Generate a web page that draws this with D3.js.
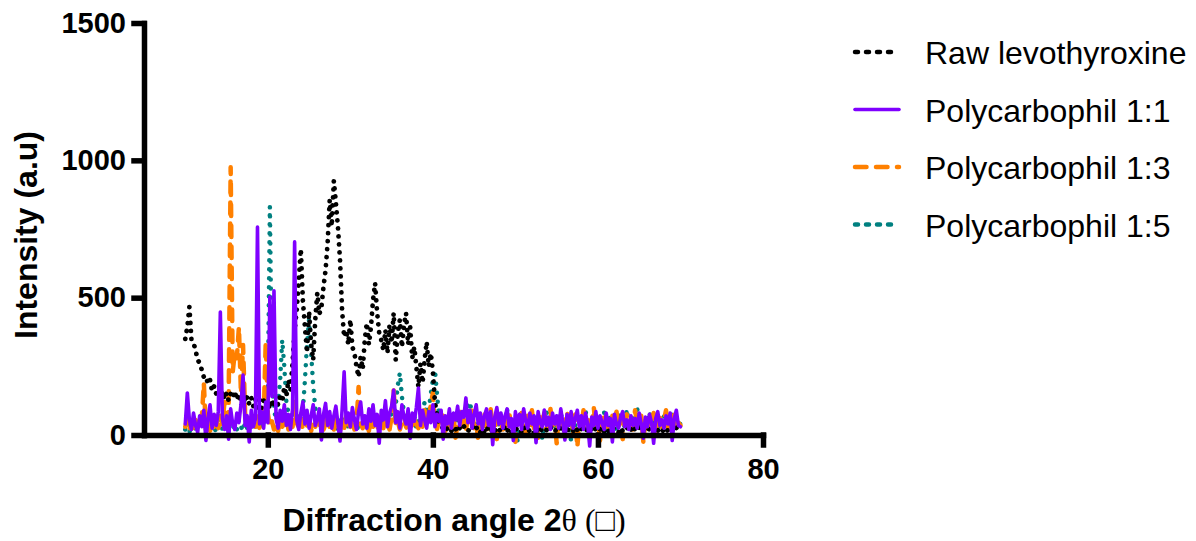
<!DOCTYPE html>
<html>
<head>
<meta charset="utf-8">
<script src="https://cdn.jsdelivr.net/npm/d3@7"></script>
<style>
  body { margin: 0; background: #fff; }
  svg text { font-family: "Liberation Sans", Arial, sans-serif; }
</style>
</head>
<body>
<div id="app"></div>
<script>
// 2theta grid: 10 .. 70 deg, one reading every 0.25 deg (one row below = 2 deg)
const angleStart = 10
const angleStep = 0.25

const rawLevothyroxine = [
  350, 393, 466, 346, 335, 309, 273, 262,
  237, 211, 215, 185, 200, 160, 178, 150,
  165, 140, 160, 130, 153, 125, 150, 135,
  160, 128, 150, 120, 145, 118, 140, 112,
  135, 105, 130, 100, 128, 98, 125, 105,
  122, 95, 130, 100, 125, 110, 150, 120,
  175, 140, 200, 165, 262, 380, 455, 560,
  677, 490, 393, 300, 450, 330, 273, 420,
  517, 440, 466, 540, 600, 700, 855, 760,
  925, 845, 757, 637, 455, 357, 382, 330,
  420, 320, 298, 248, 211, 284, 240, 346,
  408, 330, 393, 491, 553, 444, 371, 346,
  309, 382, 298, 400, 335, 444, 273, 371,
  420, 320, 400, 444, 330, 393, 280, 320,
  248, 175, 260, 190, 273, 339, 250, 298,
  230, 120, 70, 40, 30, 25, 35, 20,
  28, 15, 30, 22, 10, 26, 18, 32,
  20, 12, 28, 35, 15, 24, 30, 10,
  25, 12, 30, 18, 8, 28, 15, 22,
  10, 26, 19, 32, 14, 24, 8, 20,
  28, 16, 22, 10, 30, 18, 25, 12,
  20, 8, 26, 15, 28, 12, 22, 18,
  14, 30, 20, 10, 24, 16, 28, 12,
  22, 10, 26, 18, 14, 30, 20, 8,
  24, 16, 12, 28, 18, 22, 10, 26,
  14, 20, 30, 12, 24, 16, 8, 22,
  28, 18, 10, 26, 14, 20, 30, 12,
  22, 8, 24, 16, 28, 12, 20, 18,
  10, 26, 14, 22, 30, 16, 24, 12,
  20, 28, 12, 18, 24, 10, 26, 16,
  18
]

const polycarbophil11 = [
  40, 153, 55, 20, 80, 35, 10, 70,
  30, 90, -20, 60, 110, 25, 75, 35,
  85, 448, 60, 20, 70, -15, 95, 40,
  20, 80, 45, 110, 218, 35, 70, -25,
  90, 30, 60, 757, 40, 85, 25, 120,
  45, 502, 140, 525, 60, 25, 90, 50,
  110, 35, 75, 20, 95, 703, 55, 20,
  80, 120, 40, 90, 25, 70, 110, 35,
  60, 95, -18, 75, 115, 35, 85, 25,
  70, 105, 40, -22, 90, 230, 45, 80,
  30, 100, 55, 20, 85, 120, 40, 70,
  25, 95, 50, 110, 35, 75, -30, 90,
  55, 125, 30, 80, 105, 164, 45, 85,
  25, 110, 65, 40, 95, -12, 80, 50,
  100, 171, 35, 90, 55, 25, 85, 45,
  110, 30, 75, 50, 90, -15, 70, 40,
  95, 25, 80, 55, 105, 35, 85, 65,
  135, 45, 90, 25, 75, 110, 40, 80,
  20, 70, 95, 35, 85, -35, 65, 100,
  40, 80, 25, 70, 95, 30, 60, -20,
  85, 35, 75, 20, 95, 50, 25, 80,
  40, 70, -28, 85, 45, 30, 91, 35,
  65, 20, 80, 40, 70, 25, 95, 45,
  -18, 75, 35, 85, 25, 60, 90, 30,
  70, 20, 80, 40, -40, 65, 35, 85,
  25, 70, 45, 20, 80, 35, 60, -25,
  75, 40, 25, 65, 85, 30, 55, 20,
  70, 35, 60, 25, 80, 40, -12, 65,
  30, 75, 45, -30, 60, 85, 35, 55,
  25, 70, 40, 80, -20, 60, 90, 35,
  30
]

const polycarbophil13 = [
  30, 60, 20, 45, 10, 55, 25, 40,
  60, 189, 20, 50, 15, 40, 30, 60,
  25, 70, 40, 120, 60, 90, 975, 230,
  300, 280, 393, 150, 328, 80, 40, 60,
  20, 50, 30, 70, 25, 40, 60, 339,
  80, 30, 50, 20, 45, 15, 60, 30,
  40, 70, 20, 55, 30, 120, 45, 25,
  60, 20, 50, 35, 70, 15, 45, 30,
  55, 25, 65, 20, 40, 75, 30, 50,
  20, 60, 35, 15, 50, 25, 70, 40,
  30, 65, 20, 45, 175, 40, 25, 55,
  35, 15, 60, 30, 50, 20, 45, 70,
  25, 55, 40, 20, 65, 164, 35, 50,
  20, 45, 70, 30, 15, 55, 35, 60,
  40, 25, 65, 30, 90, 45, 60, 110,
  153, 40, 20, 55, 30, 70, 15, 45,
  60, 20, 75, -10, 45, 85, 30, 55,
  15, 65, 40, 90, 25, 50, -20, 70,
  35, 80, 10, 55, 95, 30, 60, -15,
  75, 40, 20, 65, 35, 85, 15, 50,
  -25, 60, 30, 80, 45, 10, 70, 35,
  90, 25, 55, -10, 65, 40, 80, 20,
  45, 95, 30, 60, -30, 70, 35, 55,
  20, 85, 45, 65, 10, 75, -45, 50,
  30, 90, 55, 20, 70, 40, 100, 25,
  60, -20, 45, 80, 30, 55, 15, 70,
  40, 85, 25, 60, -15, 50, 75, 30,
  65, 20, 90, 45, 35, 70, -25, 55,
  25, 60, 40, 80, 15, 50, 70, 30,
  55, 90, 20, 65, 40, 75, 30, 45,
  35
]

const polycarbophil15 = [
  20, 45, 10, 35, 50, 15, 30, 40,
  25, 55, 15, 40, 20, 45, 30, 10,
  35, 60, 20, 45, 30, 15, 50, 25,
  40, 20, 55, 30, 15, 45, 25, 60,
  30, 50, 20, 40, 65, 25, 45, 90,
  150, 831, 200, 90, 60, 120, 200, 346,
  250, 120, 80, 50, 90, 60, 40, 70,
  50, 90, 200, 330, 420, 300, 180, 100,
  60, 40, 70, 30, 55, 80, 40, 60,
  30, 50, 20, 45, 70, 35, 55, 25,
  45, 20, 60, 35, 15, 50, 30, 65,
  40, 25, 55, 30, 70, 45, 20, 50,
  35, 60, 25, 45, 80, 55, 110, 180,
  226, 140, 80, 50, 30, 60, 40, 70,
  25, 50, 35, 80, 120, 60, 90, 150,
  200, 237, 150, 70, 40, 60, 25, 50,
  35, 65, 20, 45, 70, 30, 90, 60,
  85, 110, 120, 70, 40, 55, 25, 45,
  30, 70, 15, 55, 80, 25, 60, -10,
  45, 75, 20, 50, 90, 35, 65, 10,
  55, -20, 40, 85, 30, 60, 15, 70,
  35, 80, 50, 20, 65, -15, 45, 95,
  25, 60, 40, 75, 15, 55, 85, 30,
  70, 20, 50, -25, 65, 35, 80, 45,
  15, 60, 90, 30, 50, 20, 75, 40,
  65, 25, 55, 85, -10, 45, 70, 30,
  50, 15, 80, 40, 60, 25, 95, 35,
  20, 70, 45, 100, 30, 55, 15, 65,
  40, 85, 25, 60, 35, 75, 20, 50,
  70, 30, 55, 15, 80, 40, 65, 25,
  45
]

const xTicks = [20, 40, 60, 80]
const yTicks = [0, 500, 1000, 1500]

// drawing order: back to front
const series = [
  {name: 'Polycarbophil 1:5', values: polycarbophil15, color: '#008080', width: 4.5, dash: '0.01,9', legendDash: '3,8'},
  {name: 'Polycarbophil 1:3', values: polycarbophil13, color: '#ff8000', width: 4.5, dash: '11.5,9.5', legendDash: '11.5,9.5'},
  {name: 'Raw levothyroxine', values: rawLevothyroxine, color: '#000000', width: 4.8, dash: '0.01,8', legendDash: '3,8'},
  {name: 'Polycarbophil 1:1', values: polycarbophil11, color: '#7f00ff', width: 3.6, dash: null, legendDash: null}
]
const legendOrder = ['Raw levothyroxine', 'Polycarbophil 1:1', 'Polycarbophil 1:3', 'Polycarbophil 1:5']

const width = 1196
const height = 541

const svg = d3.select('#app')
  .append('svg')
    .attr('width', width)
    .attr('height', height)

const x = d3.scaleLinear()
  .domain([5, 80])
  .range([144, 763])

const y = d3.scaleLinear()
  .domain([0, 1500])
  .range([435, 23])

const line = d3.line()
  .x((d, i) => x(angleStart + i * angleStep))
  .y(d => y(d))

const plot = svg.append('g')

series.forEach(s => {
  plot.append('path')
    .datum(s.values)
    .attr('d', line)
    .attr('fill', 'none')
    .attr('stroke', s.color)
    .attr('stroke-width', s.width)
    .attr('stroke-linejoin', 'round')
    .attr('stroke-linecap', 'round')
    .attr('stroke-dasharray', s.dash)
})

// axes
const xAxis = d3.axisBottom(x).tickValues(xTicks).tickSize(10).tickSizeOuter(0).tickPadding(13)
const yAxis = d3.axisLeft(y).tickValues(yTicks).tickSize(10).tickSizeOuter(0).tickPadding(8)
  .tickFormat(d3.format('d'))

const gx = svg.append('g')
  .attr('transform', 'translate(0,' + y(0) + ')')
  .call(xAxis)

const gy = svg.append('g')
  .attr('transform', 'translate(' + x(5) + ',0)')
  .call(yAxis)

;[gx, gy].forEach(g => {
  g.selectAll('path, line')
    .attr('stroke', '#000')
    .attr('stroke-width', 5.5)
    .attr('stroke-linecap', 'square')
  g.selectAll('text')
    .attr('fill', '#000')
    .style('font-family', '"Liberation Sans", Arial, sans-serif')
    .style('font-size', '29px')
    .style('font-weight', 'bold')
})

// axis titles
svg.append('text')
  .attr('transform', 'translate(37,235) rotate(-90)')
  .attr('text-anchor', 'middle')
  .style('font-size', '32px')
  .style('font-weight', 'bold')
  .text('Intensity (a.u)')

const xTitle = svg.append('text')
  .attr('x', 454)
  .attr('y', 531)
  .attr('text-anchor', 'middle')
  .style('font-size', '32px')
  .style('font-weight', 'bold')
xTitle.append('tspan').text('Diffraction angle 2')
xTitle.append('tspan')
  .style('font-family', '"Liberation Serif", "DejaVu Serif", serif')
  .style('font-weight', 'normal')
  .text('\u03B8 (\u25A1)')

// legend
const legend = svg.append('g')
  .selectAll('g')
  .data(legendOrder.map(n => series.find(s => s.name === n)))
  .enter()
  .append('g')
  .attr('transform', (d, i) => 'translate(853,' + (52 + i * 57.5) + ')')

legend.append('line')
  .attr('x1', 2)
  .attr('x2', 46)
  .attr('stroke', d => d.color)
  .attr('stroke-width', d => Math.min(d.width, 4.5))
  .attr('stroke-linecap', 'round')
  .attr('stroke-dasharray', d => d.legendDash)

legend.append('text')
  .attr('x', 72)
  .attr('y', 12)
  .style('font-size', '32px')
  .attr('fill', '#000')
  .text(d => d.name)
</script>
</body>
</html>
